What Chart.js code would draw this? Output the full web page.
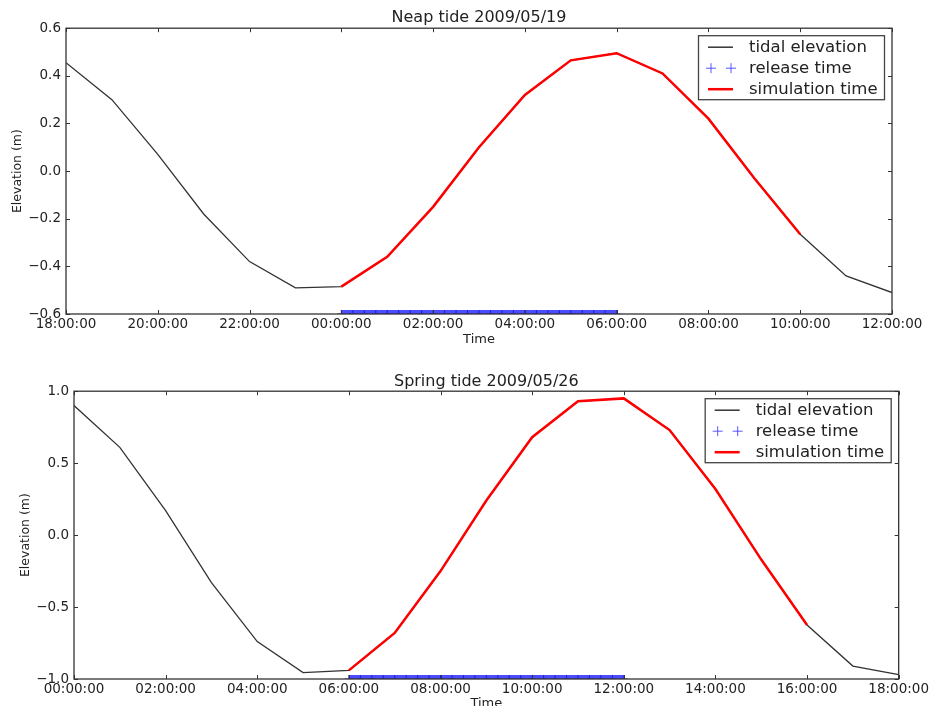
<!DOCTYPE html>
<html>
<head>
<meta charset="utf-8">
<script src="https://cdn.jsdelivr.net/npm/chart.js@4.4.0/dist/chart.umd.min.js"></script>
<style>
  html, body { margin: 0; padding: 0; background: #fff; overflow: hidden; width: 931px; height: 706px; }
  canvas { position: absolute; left: 0; }
  #neap { top: 0; }
  #spring { top: 353px; }
</style>
</head>
<body>
<canvas id="neap" width="931" height="353"></canvas>
<canvas id="spring" width="931" height="380"></canvas>
<script>
/* ==== datos: marea muerta 2009/05/19 (cada hora desde las 18:00) ==== */
const neapTimes = ["18:00","19:00","20:00","21:00","22:00","23:00","00:00","01:00","02:00","03:00",
                   "04:00","05:00","06:00","07:00","08:00","09:00","10:00","11:00","12:00"];
const neapElev = [0.455, 0.30, 0.07, -0.18, -0.38, -0.49, -0.485, -0.36, -0.15, 0.10,
                  0.32, 0.465, 0.495, 0.41, 0.22, -0.03, -0.265, -0.44, -0.51];
const neapSimWindow = ["00:00", "10:00"];
const neapRelease = ["00:00","00:15","00:30","00:45","01:00","01:15","01:30","01:45","02:00",
                     "02:15","02:30","02:45","03:00","03:15","03:30","03:45","04:00","04:15",
                     "04:30","04:45","05:00","05:15","05:30","05:45","06:00"];
const neapXTicks = ["18:00:00","20:00:00","22:00:00","00:00:00","02:00:00","04:00:00",
                    "06:00:00","08:00:00","10:00:00","12:00:00"];
const neapYTicks = [-0.6, -0.4, -0.2, 0.0, 0.2, 0.4, 0.6];

/* ==== datos: marea viva 2009/05/26 (cada hora desde las 00:00) ==== */
const springTimes = ["00:00","01:00","02:00","03:00","04:00","05:00","06:00","07:00","08:00","09:00",
                     "10:00","11:00","12:00","13:00","14:00","15:00","16:00","17:00","18:00"];
const springElev = [0.90, 0.61, 0.17, -0.33, -0.74, -0.955, -0.94, -0.68, -0.25, 0.24,
                    0.68, 0.93, 0.95, 0.73, 0.32, -0.17, -0.625, -0.91, -0.97];
const springSimWindow = ["06:00", "16:00"];
const springRelease = ["06:00","06:15","06:30","06:45","07:00","07:15","07:30","07:45","08:00",
                       "08:15","08:30","08:45","09:00","09:15","09:30","09:45","10:00","10:15",
                       "10:30","10:45","11:00","11:15","11:30","11:45","12:00"];
const springXTicks = ["00:00:00","02:00:00","04:00:00","06:00:00","08:00:00","10:00:00",
                      "12:00:00","14:00:00","16:00:00","18:00:00"];
const springYTicks = [-1.0, -0.5, 0.0, 0.5, 1.0];

const FONT = "'DejaVu Sans', sans-serif";
const INK = "#333";

// horas transcurridas desde el inicio del eje (cruza medianoche)
function hoursFrom(start, t) {
  const [h, m] = t.split(":").map(Number);
  const [h0, m0] = start.split(":").map(Number);
  let d = (h * 60 + m) - (h0 * 60 + m0);
  if (d < 0) d += 1440;
  return d / 60;
}

function fmtY(v) {
  if (Math.abs(v) < 1e-9) v = 0;
  return v.toFixed(1).replace("-", "\u2212");
}

// marco completo + ticks hacia dentro + leyenda (estilo matplotlib)
const frameLegend = {
  id: "frameLegend",
  afterDraw(chart) {
    const { ctx, chartArea: a, scales } = chart;
    ctx.save();
    ctx.strokeStyle = INK;
    ctx.lineWidth = 1;
    ctx.beginPath();
    scales.x.ticks.forEach(t => {
      const px = Math.round(scales.x.getPixelForValue(t.value)) + 0.5;
      ctx.moveTo(px, a.bottom); ctx.lineTo(px, a.bottom - 4);
      ctx.moveTo(px, a.top); ctx.lineTo(px, a.top + 4);
    });
    scales.y.ticks.forEach(t => {
      const py = Math.round(scales.y.getPixelForValue(t.value)) + 0.5;
      ctx.moveTo(a.left, py); ctx.lineTo(a.left + 4, py);
      ctx.moveTo(a.right, py); ctx.lineTo(a.right - 4, py);
    });
    ctx.stroke();
    ctx.lineWidth = 1.3;
    ctx.strokeRect(a.left, a.top, a.right - a.left, a.bottom - a.top);

    // leyenda
    const w = 186, h = 64;
    const bx = a.right - 8 - w, by = a.top + 7;
    ctx.fillStyle = "#fff";
    ctx.fillRect(bx, by, w, h);
    ctx.strokeStyle = "#444";
    ctx.lineWidth = 1.3;
    ctx.strokeRect(bx + 0.5, by + 0.5, w, h);
    const rows = [by + 12, by + 33, by + 54];
    ctx.lineWidth = 1.5; ctx.strokeStyle = INK;
    ctx.beginPath(); ctx.moveTo(bx + 10, rows[0]); ctx.lineTo(bx + 35, rows[0]); ctx.stroke();
    ctx.lineWidth = 1; ctx.strokeStyle = "rgba(60,60,255,0.85)";
    [bx + 13, bx + 33].forEach(cx => {
      ctx.beginPath();
      ctx.moveTo(cx - 5, rows[1]); ctx.lineTo(cx + 5, rows[1]);
      ctx.moveTo(cx, rows[1] - 5); ctx.lineTo(cx, rows[1] + 5);
      ctx.stroke();
    });
    ctx.lineWidth = 2.5; ctx.strokeStyle = "#ff0000";
    ctx.beginPath(); ctx.moveTo(bx + 10, rows[2]); ctx.lineTo(bx + 35, rows[2]); ctx.stroke();
    ctx.fillStyle = "#222";
    ctx.font = "16.5px " + FONT;
    ctx.textBaseline = "middle";
    ["tidal elevation", "release time", "simulation time"].forEach((txt, i) => {
      ctx.fillText(txt, bx + 51, rows[i] + 1);
    });
    ctx.restore();
  }
};

function makeTide(id, cfg) {
  const start = cfg.times[0];
  const tide = cfg.times.map((t, i) => ({ x: hoursFrom(start, t), y: cfg.elev[i] }));
  const s0 = hoursFrom(start, cfg.sim[0]), s1 = hoursFrom(start, cfg.sim[1]);
  const sim = tide.filter(p => p.x >= s0 && p.x <= s1);
  const yMin = cfg.yTicks[0], yMax = cfg.yTicks[cfg.yTicks.length - 1];
  const release = cfg.release.map(t => ({ x: hoursFrom(start, t), y: yMin }));
  const xTickVals = cfg.xTicks.map(l => hoursFrom(start, l.slice(0, 5)));
  const xLast = hoursFrom(start, cfg.times[cfg.times.length - 1]);

  new Chart(document.getElementById(id), {
    type: "line",
    data: {
      datasets: [
        { label: "tidal elevation", data: tide, borderColor: INK, borderWidth: 1.3,
          pointRadius: 0, tension: 0, order: 3, clip: 0 },
        { label: "release time", data: release, borderColor: "rgba(55,55,255,0.9)", borderWidth: 8,
          pointStyle: "cross", pointRadius: 4, pointBorderWidth: 1, pointBorderColor: "#2020c8",
          order: 2, clip: 0 },
        { label: "simulation time", data: sim, borderColor: "#ff0000", borderWidth: 2.5,
          pointRadius: 0, tension: 0, order: 1, clip: 0 }
      ]
    },
    options: {
      responsive: false,
      animation: false,
      events: [],
      layout: { padding: { left: 0, right: cfg.padRight, top: 0, bottom: 0 } },
      plugins: {
        legend: { display: false },
        tooltip: { enabled: false },
        title: {
          display: true, text: cfg.title, fullSize: false, color: "#222",
          font: { family: FONT, size: 16, weight: "normal" },
          padding: { top: cfg.titleTop, bottom: cfg.titleBottom }
        }
      },
      scales: {
        x: {
          type: "linear", min: 0, max: xLast,
          afterBuildTicks: s => { s.ticks = xTickVals.map(v => ({ value: v })); },
          afterFit: s => { s.height = cfg.xAxisH; },
          grid: { display: false, drawTicks: false },
          border: { display: false },
          ticks: {
            color: "#222", padding: cfg.xTickPad, maxRotation: 0, autoSkip: false,
            font: { family: FONT, size: 13.5 },
            callback: v => cfg.xTicks[xTickVals.indexOf(v)]
          },
          title: { display: true, text: "Time", color: "#222",
                   font: { family: FONT, size: 13 }, padding: { top: 0, bottom: cfg.xTitlePad } }
        },
        y: {
          min: yMin, max: yMax,
          afterBuildTicks: s => { s.ticks = cfg.yTicks.map(v => ({ value: v })); },
          afterFit: s => { s.width = cfg.yAxisW; },
          grid: { display: false, drawTicks: false },
          border: { display: false },
          ticks: { color: "#222", padding: 5, font: { family: FONT, size: 13.5 }, callback: v => fmtY(v) },
          title: { display: true, text: "Elevation (m)", color: "#222",
                   font: { family: FONT, size: 12.5 }, padding: { top: cfg.yTitlePad, bottom: 0 } }
        }
      }
    },
    plugins: [frameLegend]
  });
}

makeTide("neap", {
  title: "Neap tide 2009/05/19", times: neapTimes, elev: neapElev, sim: neapSimWindow,
  release: neapRelease, xTicks: neapXTicks, yTicks: neapYTicks,
  padRight: 39, yAxisW: 66, xAxisH: 39, titleTop: 8, titleBottom: 1,
  xTickPad: 2, xTitlePad: 6, yTitlePad: 10
});

makeTide("spring", {
  title: "Spring tide 2009/05/26", times: springTimes, elev: springElev, sim: springSimWindow,
  release: springRelease, xTicks: springXTicks, yTicks: springYTicks,
  padRight: 30, yAxisW: 74, xAxisH: 54, titleTop: 19, titleBottom: 0,
  xTickPad: 2, xTitlePad: 22, yTitlePad: 18
});
</script>
</body>
</html>
